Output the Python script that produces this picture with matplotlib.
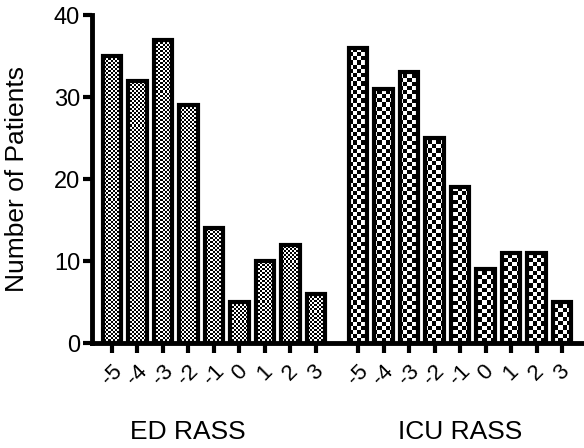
import numpy as np
import matplotlib
matplotlib.use("Agg")
import matplotlib.pyplot as plt

plt.rcParams['font.family'] = ['Liberation Sans', 'DejaVu Sans']

rass_labels = ['-5', '-4', '-3', '-2', '-1', '0', '1', '2', '3']
ed_counts = [35, 32, 37, 29, 14, 5, 10, 12, 6]
icu_counts = [36, 31, 33, 25, 19, 9, 11, 11, 5]
group_names = ['ED RASS', 'ICU RASS']

W, H = 584, 448
fig = plt.figure(figsize=(W / 100, H / 100), dpi=100)
ax_left, ax_right, ax_top, ax_bot = 92, 584, 15, 343
ax = fig.add_axes([ax_left / W, 1 - ax_bot / H, (ax_right - ax_left) / W, (ax_bot - ax_top) / H])

gap = 1.65
x_ed = np.arange(len(ed_counts))
x_icu = np.arange(len(icu_counts)) + len(ed_counts) - 1 + gap
bw = 0.72
lw = 3.0

bars_ed = ax.bar(x_ed, ed_counts, width=bw, facecolor='white', edgecolor='none', zorder=2)
bars_icu = ax.bar(x_icu, icu_counts, width=bw, facecolor='white', edgecolor='none', zorder=2)
ax.bar(x_ed, ed_counts, width=bw, facecolor='none', edgecolor='black', linewidth=lw, zorder=5)
ax.bar(x_icu, icu_counts, width=bw, facecolor='none', edgecolor='black', linewidth=lw, zorder=5)

xlim = (-0.78, x_icu[-1] + 0.86)
ax.set_xlim(*xlim)
ax.set_ylim(0, 40)

axw, axh = ax_right - ax_left, ax_bot - ax_top

def checker(cell):
    nx, ny = int(np.ceil(axw / cell)), int(np.ceil(axh / cell))
    yy, xx = np.mgrid[0:ny, 0:nx]
    return ((xx + yy) % 2).astype(float), nx * cell / axw, ny * cell / axh

for bars, cell in ((bars_ed, 2.0), (bars_icu, 4.2)):
    tex, fx, fy = checker(cell)
    for b in bars:
        im = ax.imshow(tex, cmap='gray', vmin=0, vmax=1, interpolation='nearest',
                       extent=[0, fx, 1 - fy, 1], transform=ax.transAxes,
                       aspect='auto', zorder=3)
        im.set_clip_path(b)

ax.set_aspect('auto')
ax.set_xlim(*xlim)
ax.set_ylim(0, 40)

for s in ['top', 'right']:
    ax.spines[s].set_visible(False)
for s in ['left', 'bottom']:
    ax.spines[s].set_linewidth(3.5)
    ax.spines[s].set_zorder(6)

ax.set_yticks([0, 10, 20, 30, 40])
ax.tick_params(axis='y', width=3.0, length=6.5, labelsize=17, pad=2)
ax.set_xticks(np.concatenate([x_ed, x_icu]))
ax.set_xticklabels(rass_labels + rass_labels, rotation=45, ha='center', va='top', fontsize=16)
ax.tick_params(axis='x', width=3.0, length=7, pad=6)
for lab in ax.get_xticklabels():
    lab.set_x(lab.get_position()[0])

ax.set_ylabel('Number of Patients', fontsize=19, labelpad=18)

fig.text(188 / W, 1 - 432 / H, group_names[0], ha='center', va='center', fontsize=19)
fig.text(460 / W, 1 - 432 / H, group_names[1], ha='center', va='center', fontsize=19)

fig.savefig('out.png', dpi=100)
